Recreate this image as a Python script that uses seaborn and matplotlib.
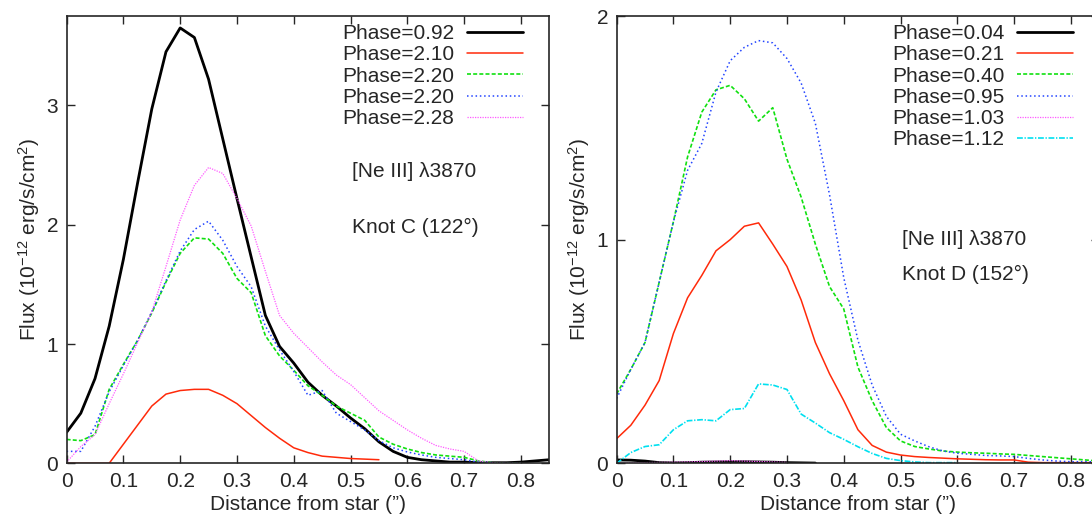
import numpy as np
import pandas as pd
import matplotlib
matplotlib.use("Agg")
import matplotlib.pyplot as plt
import seaborn as sns

nan = np.nan

# distance from star (arcsec), common grid for both knots
dist = [0, 0.025, 0.05, 0.075, 0.1, 0.125, 0.15, 0.175, 0.2, 0.225, 0.25, 0.275,
        0.3, 0.325, 0.35, 0.375, 0.4, 0.425, 0.45, 0.475, 0.5, 0.525, 0.55, 0.575,
        0.6, 0.625, 0.65, 0.675, 0.7, 0.725, 0.75, 0.775, 0.8, 0.825, 0.85]

# Knot C
labels_c = ["Phase=0.92", "Phase=2.10", "Phase=2.20", "Phase=2.20", "Phase=2.28"]
flux_c_092 = [0.26, 0.42, 0.71, 1.15, 1.71, 2.35, 2.97, 3.45, 3.65, 3.57, 3.22, 2.72,
              2.22, 1.73, 1.24, 0.98, 0.84, 0.68, 0.57, 0.48, 0.38, 0.29, 0.18, 0.10,
              0.05, 0.03, 0.02, 0.01, 0.01, 0.005, 0.005, 0.005, 0.01, 0.02, 0.03]
flux_c_210 = [0, 0, 0, 0, 0.16, 0.32, 0.48, 0.58, 0.61, 0.62, 0.62, 0.57,
              0.50, 0.40, 0.30, 0.21, 0.13, 0.09, 0.06, 0.05, 0.04, 0.035, 0.03, nan,
              nan, nan, nan, nan, nan, nan, nan, nan, nan, nan, nan]
flux_c_220a = [0.20, 0.19, 0.24, 0.62, 0.83, 1.03, 1.26, 1.52, 1.76, 1.89, 1.88, 1.76,
               1.55, 1.43, 1.07, 0.90, 0.78, 0.65, 0.57, 0.48, 0.42, 0.36, 0.22, 0.16,
               0.12, 0.09, 0.07, 0.06, 0.05, 0.02, 0.005, 0.0, 0.0, nan, nan]
flux_c_220b = [0.10, 0.10, 0.31, 0.60, 0.82, 1.03, 1.27, 1.53, 1.78, 1.96, 2.03, 1.87,
               1.65, 1.48, 1.15, 0.95, 0.77, 0.57, 0.61, 0.42, 0.35, 0.28, 0.19, 0.13,
               0.095, 0.07, 0.05, 0.04, 0.03, 0.01, 0.005, 0.0, 0.0, nan, nan]
flux_c_228 = [0.01, 0.14, 0.24, 0.50, 0.75, 1.01, 1.27, 1.65, 2.04, 2.33, 2.48, 2.43,
              2.22, 1.99, 1.61, 1.24, 1.09, 0.97, 0.85, 0.74, 0.66, 0.55, 0.44, 0.36,
              0.28, 0.21, 0.15, 0.12, 0.10, 0.02, 0.005, 0.0, 0.0, nan, nan]

# Knot D
labels_d = ["Phase=0.04", "Phase=0.21", "Phase=0.40", "Phase=0.95", "Phase=1.03", "Phase=1.12"]
flux_d_004 = [0.015, 0.014, 0.01, 0.003, 0.002, 0.003, 0.005, 0.006, 0.007, 0.007, 0.006, 0.005,
              0.003, 0.002, 0.001, nan, nan, nan, nan, nan, nan, nan, nan, nan,
              nan, nan, nan, nan, nan, nan, nan, nan, nan, nan, nan]
flux_d_021 = [0.11, 0.17, 0.26, 0.37, 0.58, 0.74, 0.84, 0.95, 1.0, 1.06, 1.075, 0.98,
              0.88, 0.73, 0.54, 0.40, 0.28, 0.15, 0.08, 0.05, 0.037, 0.03, 0.026, 0.023,
              0.02, 0.018, 0.016, 0.015, 0.015, 0.005, 0.003, 0.003, 0.003, 0.003, 0.003]
flux_d_040 = [0.31, 0.42, 0.54, 0.81, 1.08, 1.37, 1.57, 1.67, 1.69, 1.63, 1.53, 1.59,
              1.36, 1.19, 0.98, 0.79, 0.69, 0.43, 0.28, 0.16, 0.10, 0.075, 0.064, 0.055,
              0.05, 0.047, 0.045, 0.042, 0.04, 0.035, 0.03, 0.025, 0.02, 0.015, 0.01]
flux_d_095 = [0.29, 0.42, 0.54, 0.81, 1.08, 1.31, 1.43, 1.66, 1.80, 1.86, 1.89, 1.88,
              1.81, 1.70, 1.52, 1.20, 0.83, 0.55, 0.35, 0.21, 0.13, 0.10, 0.074, 0.055,
              0.045, 0.04, 0.035, 0.033, 0.03, 0.022, 0.015, 0.01, 0.007, 0.007, 0.007]
flux_d_103 = [0.0, 0.002, 0.003, 0.004, 0.005, 0.006, 0.008, 0.01, 0.012, 0.01, 0.008, 0.006,
              0.004, nan, nan, nan, nan, nan, nan, nan, nan, nan, nan, nan,
              nan, nan, nan, nan, nan, nan, nan, nan, nan, nan, nan]
flux_d_112 = [0.0, 0.048, 0.075, 0.083, 0.15, 0.19, 0.195, 0.19, 0.24, 0.245, 0.355, 0.35,
              0.33, 0.22, 0.18, 0.137, 0.107, 0.074, 0.044, 0.022, 0.012, 0.006, 0.003, 0.003,
              0.003, nan, nan, nan, nan, nan, nan, nan, nan, nan, nan]

sns.set_style("ticks")
plt.rcParams["font.family"] = ["Liberation Sans", "DejaVu Sans"]
plt.rcParams["mathtext.fontset"] = "custom"
plt.rcParams["mathtext.rm"] = "Liberation Sans"
plt.rcParams["mathtext.it"] = "Liberation Sans:italic"
plt.rcParams["font.size"] = 15
FS = 15

styles = [
    dict(color="black", lw=2.0, ls="-"),
    dict(color="#ff2a0a", lw=1.1, ls="-"),
    dict(color="#10e010", lw=1.2, ls=(0, (2.4, 1.3))),
    dict(color="#2244ff", lw=1.1, ls=(0, (1, 1.8))),
    dict(color="#ff5cff", lw=0.9, ls=(0, (1, 1))),
    dict(color="#00e0f0", lw=1.2, ls=(0, (3.5, 1, 0.8, 1))),
]

fig = plt.figure(figsize=(10.92, 5.17), dpi=100)
ax1 = fig.add_axes([66.6 / 1092, 1 - 463.3 / 517, 482.7 / 1092, 447.3 / 517])
ax2 = fig.add_axes([616.6 / 1092, 1 - 463.3 / 517, 482.7 / 1092, 447.3 / 517])


def draw(ax, series, labels, ymax, yticks, note):
    for vals, lab, st in zip(series, labels, styles):
        df = pd.DataFrame({"dist": dist, "flux": vals}).dropna()
        sns.lineplot(data=df, x="dist", y="flux", ax=ax, label=lab,
                     estimator=None, sort=False, **st)
    ax.set_xlim(0, 0.85)
    ax.set_ylim(0, ymax)
    ax.set_xticks([0, 0.1, 0.2, 0.3, 0.4, 0.5, 0.6, 0.7, 0.8])
    ax.set_xticklabels(["0", "0.1", "0.2", "0.3", "0.4", "0.5", "0.6", "0.7", "0.8"])
    ax.set_yticks(yticks)
    ax.tick_params(direction="in", top=True, right=True, length=6, width=1,
                   labelsize=FS, pad=6)
    for s in ax.spines.values():
        s.set_linewidth(1.2)
    ax.set_xlabel("Distance from star (\u201d)", fontsize=FS, labelpad=3)
    ax.set_ylabel("Flux (10$^{\u221212}$ erg/s/cm$^2$)", fontsize=FS, labelpad=3)
    ax.legend(loc="upper right", bbox_to_anchor=(1 - 26 / 482.7, 1 - 8 / 447.3),
              frameon=False, markerfirst=False, fontsize=FS, borderaxespad=0,
              borderpad=0, labelspacing=0.11, handlelength=2.7, handletextpad=0.6)
    ax.text(0.502, note[0], note[1], fontsize=FS, va="center", ha="left")
    ax.text(0.502, note[2], note[3], fontsize=FS, va="center", ha="left")


draw(ax1, [flux_c_092, flux_c_210, flux_c_220a, flux_c_220b, flux_c_228], labels_c,
     3.75, [0, 1, 2, 3], (2.45, "[Ne III] \u03bb3870", 1.98, "Knot C (122\u00b0)"))
draw(ax2, [flux_d_004, flux_d_021, flux_d_040, flux_d_095, flux_d_103, flux_d_112], labels_d,
     2.0, [0, 1, 2], (1.0, "[Ne III] \u03bb3870", 0.845, "Knot D (152\u00b0)"))

fig.savefig("out.png", dpi=100)
